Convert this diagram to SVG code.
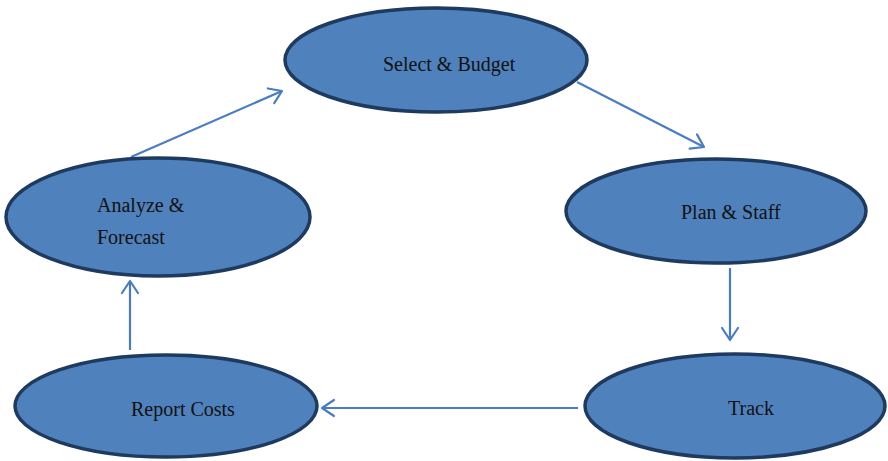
<svg xmlns="http://www.w3.org/2000/svg" width="888" height="461" viewBox="0 0 888 461">
  <style>
    .node { fill: #4f81bd; stroke: #1e3a5f; stroke-width: 3.5; }
    .label { font-family: "Liberation Serif", "Times New Roman", serif; font-size: 20px; fill: #111; }
    .edge { fill: none; stroke: #4a7cc4; stroke-width: 2.2; marker-end: url(#arrow); }
  </style>
  <defs>
    <marker id="arrow" viewBox="0 0 16 20" refX="14" refY="10" markerWidth="16" markerHeight="20" markerUnits="userSpaceOnUse" orient="auto">
      <path d="M2,2 L14,10 L2,18" fill="none" stroke="#4a7cc4" stroke-width="2.2" stroke-linecap="round" stroke-linejoin="round"/>
    </marker>
  </defs>
  <rect width="888" height="461" fill="#ffffff"/>

  <g id="connectors">
    <line class="edge" x1="577" y1="82" x2="704" y2="147"/>
    <line class="edge" x1="730" y1="268" x2="730" y2="340"/>
    <line class="edge" x1="578" y1="408" x2="322" y2="408"/>
    <line class="edge" x1="130" y1="350" x2="130" y2="281"/>
    <line class="edge" x1="131" y1="157" x2="282" y2="91"/>
  </g>

  <g id="select-budget">
    <ellipse class="node" cx="436" cy="60" rx="151" ry="52"/>
    <text class="label" x="383" y="71">Select &amp; Budget</text>
  </g>

  <g id="plan-staff">
    <ellipse class="node" cx="716" cy="211" rx="150" ry="52"/>
    <text class="label" x="681" y="219">Plan &amp; Staff</text>
  </g>

  <g id="track">
    <ellipse class="node" cx="735" cy="406" rx="150" ry="52"/>
    <text class="label" x="728" y="415">Track</text>
  </g>

  <g id="report-costs">
    <ellipse class="node" cx="166" cy="406" rx="151" ry="51"/>
    <text class="label" x="131" y="416">Report Costs</text>
  </g>

  <g id="analyze-forecast">
    <ellipse class="node" cx="158" cy="217" rx="152" ry="59"/>
    <text class="label" x="97" y="212">Analyze &amp;</text>
    <text class="label" x="97" y="244">Forecast</text>
  </g>
</svg>
